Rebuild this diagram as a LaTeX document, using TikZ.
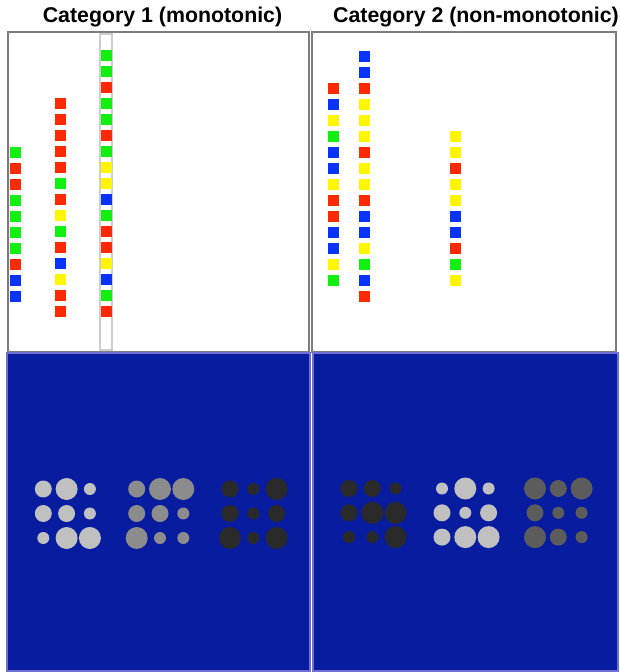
\documentclass[tikz,border=0pt]{standalone}
\usepackage{fontspec}
\setmainfont{Liberation Sans}
\usepackage{tikz}
\usetikzlibrary{positioning}
\definecolor{cellred}{RGB}{255,42,0}
\definecolor{cellgreen}{RGB}{18,240,18}
\definecolor{cellblue}{RGB}{10,50,255}
\definecolor{cellyellow}{RGB}{255,246,0}
\definecolor{frameline}{RGB}{125,125,125}
\definecolor{stripline}{RGB}{205,205,205}
\definecolor{screenblue}{RGB}{8,28,160}
\definecolor{screenedge}{RGB}{112,112,212}
\definecolor{disclight}{RGB}{192,192,192}
\definecolor{discmid}{RGB}{140,140,140}
\definecolor{discgrey}{RGB}{92,92,92}
\definecolor{discdark}{RGB}{42,42,42}
\tikzset{
  title/.style={font=\fontsize{16}{19}\selectfont\bfseries, anchor=center},
  panel/.style={draw=frameline, fill=white, line width=1.1pt},
  screen/.style={draw=screenedge, fill=screenblue, line width=1.1pt},
  cellR/.style={fill=cellred},
  cellG/.style={fill=cellgreen},
  cellB/.style={fill=cellblue},
  cellY/.style={fill=cellyellow}
}

\begin{document}
\begin{tikzpicture}[x=0.75pt, y=-0.75pt]
  \useasboundingbox (0,0) rectangle (619,672);

  % ── Titles ────────────────────────────────────────────────────────────────
  \node[title] (mono) at (162.5,17) {Category 1 (monotonic)};
  \node[title] (nonmono) at (476,17) {Category 2 (non-monotonic)};

  % ── Panels ────────────────────────────────────────────────────────────────
  \draw[panel] (8,32) rectangle (309,352);
  \draw[panel] (312,32) rectangle (616,352);
  \draw[screen] (7,353) rectangle (310,671);
  \draw[screen] (313,353) rectangle (618,671);

  % ── Category 1 sequences ──────────────────────────────────────────────────
  \draw[stripline, line width=0.8pt] (100,34) rectangle (112,350);
  \foreach \c [count=\i from 0] in {G,R,R,G,G,G,G,R,B,B}
    \path[cell\c] (9.5,{146.5+16*\i}) rectangle ++(11,11);
  \foreach \c [count=\i from 0] in {R,R,R,R,R,G,R,Y,G,R,B,Y,R,R}
    \path[cell\c] (54.5,{98+16*\i}) rectangle ++(11,11);
  \foreach \c [count=\i from 0] in {G,G,R,G,G,R,G,Y,Y,B,G,R,R,Y,B,G,R}
    \path[cell\c] (100.5,{49.5+16*\i}) rectangle ++(11,11);

  % ── Category 2 sequences ──────────────────────────────────────────────────
  \foreach \c [count=\i from 0] in {R,B,Y,G,B,B,Y,R,R,B,B,Y,G}
    \path[cell\c] (328,{82.5+16*\i}) rectangle ++(11,11);
  \foreach \c [count=\i from 0] in {B,B,R,Y,Y,Y,R,Y,Y,R,B,B,Y,G,B,R}
    \path[cell\c] (358.5,{50.5+16*\i}) rectangle ++(11,11);
  \foreach \c [count=\i from 0] in {Y,Y,R,Y,Y,B,B,R,G,Y}
    \path[cell\c] (450,{131+16*\i}) rectangle ++(11,11);

  % ── Dot displays, category 1 ──────────────────────────────────────────────
  \foreach \r [count=\k from 0] in {8.5,11,6, 8.5,8.5,6, 6,11,11}
    \fill[disclight] ({43.3+23.3*mod(\k,3)},{489+24.5*floor(\k/3)}) circle ({\r*0.75pt});
  \foreach \r [count=\k from 0] in {8.5,11,11, 8.5,8.5,6, 11,6,6}
    \fill[discmid] ({136.7+23.3*mod(\k,3)},{489+24.5*floor(\k/3)}) circle ({\r*0.75pt});
  \foreach \r [count=\k from 0] in {8.5,6,11, 8.5,6,8.5, 11,6,11}
    \fill[discdark] ({230+23.3*mod(\k,3)},{489+24.5*floor(\k/3)}) circle ({\r*0.75pt});

  % ── Dot displays, category 2 ──────────────────────────────────────────────
  \foreach \r [count=\k from 0] in {8.5,8.5,6, 8.5,11,11, 6,6,11}
    \fill[discdark] ({349+23.3*mod(\k,3)},{488.5+24.3*floor(\k/3)}) circle ({\r*0.75pt});
  \foreach \r [count=\k from 0] in {6,11,6, 8.5,6,8.5, 8.5,11,11}
    \fill[disclight] ({442+23.3*mod(\k,3)},{488.5+24.3*floor(\k/3)}) circle ({\r*0.75pt});
  \foreach \r [count=\k from 0] in {11,8.5,11, 8.5,6,6, 11,8.5,6}
    \fill[discgrey] ({535+23.3*mod(\k,3)},{488.5+24.3*floor(\k/3)}) circle ({\r*0.75pt});
\end{tikzpicture}
\end{document}
